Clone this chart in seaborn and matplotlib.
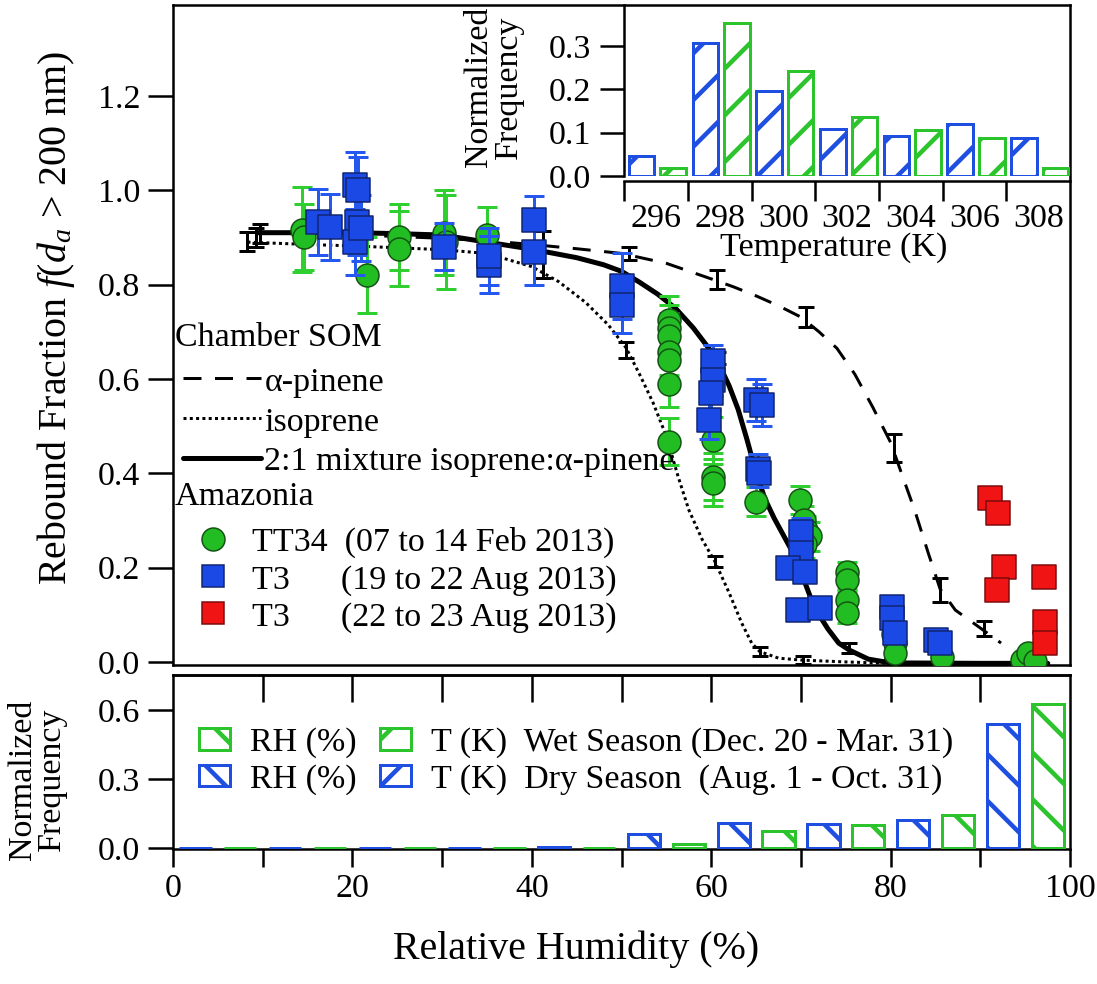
import numpy as np
import pandas as pd
import matplotlib
matplotlib.use("Agg")
import matplotlib.pyplot as plt
from matplotlib.lines import Line2D
from matplotlib.patches import Patch
import seaborn as sns

# ---------------- data ----------------
# Amazonia TT34 (07 to 14 Feb 2013)
tt34_rh = [14.4, 14.6, 21.6, 25.2, 25.2, 30.2, 30.4, 35.0,
           55.3, 55.3, 55.3, 55.3, 55.3, 55.3, 55.3,
           60.2, 60.2, 60.2, 65.0, 69.9, 70.3, 70.6, 71.0, 70.4,
           75.1, 75.1, 75.1, 75.1, 80.3, 80.5, 80.5, 85.7, 94.6, 95.3, 96.1]
tt34_rf = [0.916, 0.900, 0.820, 0.900, 0.876, 0.910, 0.890, 0.905,
           0.725, 0.707, 0.690, 0.658, 0.640, 0.590, 0.467,
           0.470, 0.393, 0.380, 0.340, 0.343, 0.300, 0.280, 0.266, 0.250,
           0.191, 0.174, 0.131, 0.103, 0.060, 0.040, 0.019, 0.011, 0.004, 0.020, 0.001]
tt34_err = [0.09, 0.07, 0.08, 0.07, 0.08, 0.09, 0.10, 0.06,
            0.05, 0.05, 0.05, 0.05, 0.05, 0.05, 0.05,
            0.05, 0.05, 0.05, 0.03, 0.03, 0.03, 0.03, 0.03, 0.03,
            0.02, 0.02, 0.02, 0.02, 0.01, 0.01, 0.01, 0.01, 0.01, 0.01, 0.01]

# Amazonia T3 (19 to 22 Aug 2013)
t3a_rh = [16.2, 17.5, 20.3, 20.6, 20.5, 20.3, 21.0, 30.2, 35.2, 35.2, 40.2, 40.2,
          50.1, 50.1, 60.2, 60.2, 60.0, 59.8, 65.0, 65.6, 65.2, 65.3,
          70.0, 70.0, 68.6, 70.4, 69.7, 72.1, 80.1, 80.1, 80.5, 85.1, 85.5]
t3a_rf = [0.933, 0.923, 1.011, 1.000, 0.933, 0.891, 0.920, 0.880, 0.842, 0.860, 0.937, 0.870,
          0.796, 0.757, 0.637, 0.598, 0.570, 0.513, 0.555, 0.545, 0.410, 0.400,
          0.276, 0.231, 0.200, 0.190, 0.110, 0.114, 0.117, 0.093, 0.061, 0.047, 0.040]
t3a_err = [0.07, 0.07, 0.07, 0.07, 0.07, 0.07, 0.07, 0.05, 0.06, 0.06, 0.05, 0.07,
           0.07, 0.06, 0.035, 0.035, 0.035, 0.04, 0.045, 0.045, 0.03, 0.03,
           0.03, 0.03, 0.02, 0.02, 0.02, 0.02, 0.02, 0.02, 0.02, 0.01, 0.01]

# Amazonia T3 (22 to 23 Aug 2013)
t3b_rh = [91.1, 92.0, 92.6, 91.8, 97.1, 97.2, 97.2]
t3b_rf = [0.347, 0.315, 0.202, 0.152, 0.181, 0.085, 0.040]
t3b_err = [0.005, 0.005, 0.005, 0.005, 0.005, 0.005, 0.005]

# Chamber SOM curves
apin_rh = [9.5, 15, 20, 25, 30, 35, 40, 45, 50, 55, 60, 62.5, 65, 67.5, 70, 72, 74, 76, 78,
           80, 81.2, 82.7, 84.2, 85.5, 87.2, 89.4, 92.3]
apin_rf = [0.910, 0.908, 0.905, 0.902, 0.898, 0.893, 0.885, 0.876, 0.866, 0.845, 0.812, 0.795,
           0.776, 0.755, 0.731, 0.700, 0.665, 0.610, 0.540, 0.465, 0.400, 0.320, 0.230, 0.155,
           0.110, 0.080, 0.040]
iso_rh = [8.3, 15, 20, 25, 30, 35, 40, 43, 46, 48.5, 50.5, 52, 53.5, 55, 56.3, 57.5, 59, 60.4,
          62, 63.4, 64.5, 65.4, 67.5, 70, 75, 80, 90, 97]
iso_rf = [0.890, 0.885, 0.882, 0.878, 0.874, 0.866, 0.838, 0.806, 0.762, 0.715, 0.666, 0.610,
          0.550, 0.478, 0.393, 0.322, 0.259, 0.213, 0.146, 0.082, 0.040, 0.022, 0.008, 0.004,
          0.000, -0.003, -0.003, -0.003]
mix_rh = [9.5, 15, 20, 25, 30, 35, 40, 45, 48, 50, 52, 54, 56, 58, 60, 61, 62, 63, 64, 65, 66,
          67, 68, 69, 70, 71, 72, 73, 74.2, 75.4, 77.5, 80, 90, 97.5]
mix_rf = [0.910, 0.910, 0.910, 0.908, 0.905, 0.890, 0.875, 0.857, 0.842, 0.828, 0.805, 0.780,
          0.750, 0.708, 0.658, 0.625, 0.585, 0.535, 0.470, 0.400, 0.345, 0.305, 0.270, 0.235,
          0.190, 0.140, 0.100, 0.070, 0.040, 0.025, 0.006, -0.002, -0.003, -0.003]

# Chamber SOM measured points with error bars
apin_pt_rh = [9.7, 50.8, 60.6, 70.6, 80.4, 85.5, 90.4]
apin_pt_rf = [0.909, 0.866, 0.811, 0.731, 0.453, 0.153, 0.071]
apin_pt_err = [0.020, 0.014, 0.020, 0.021, 0.030, 0.025, 0.015]
iso_pt_rh = [8.3, 50.5, 60.4, 65.4, 70.2, 80.0]
iso_pt_rf = [0.891, 0.661, 0.213, 0.022, 0.004, -0.005]
iso_pt_err = [0.020, 0.017, 0.012, 0.010, 0.008, 0.010]
mix_pt_rh = [9.3, 41.2, 60.7, 75.4, 80.1]
mix_pt_rf = [0.900, 0.863, 0.645, 0.030, -0.002]
mix_pt_err = [0.020, 0.050, 0.013, 0.010, 0.010]

# RH frequency distributions (bins of 10 %)
rh_bins = [0, 10, 20, 30, 40, 50, 60, 70, 80, 90]
rh_dry = [0, 0, 0, 0, 0.006, 0.062, 0.110, 0.105, 0.123, 0.540]
rh_wet = [0, 0, 0, 0, 0, 0.018, 0.072, 0.102, 0.142, 0.625]

# Temperature frequency distributions
t_bins = [296, 298, 300, 302, 304, 306, 308]
t_dry = [0.046, 0.306, 0.196, 0.108, 0.091, 0.120, 0.088]
t_wet = [0.019, 0.354, 0.243, 0.136, 0.106, 0.088, 0.019]

# ---------------- style ----------------
DPI = 280
W, H = 1097, 984


def pt(px):
    return px * 72.0 / DPI


sns.set_style("ticks")
plt.rcParams['font.family'] = ['Liberation Serif', 'DejaVu Serif']
plt.rcParams['mathtext.fontset'] = 'custom'
plt.rcParams['mathtext.rm'] = 'Liberation Serif'
plt.rcParams['mathtext.it'] = 'Liberation Serif:italic'
plt.rcParams['hatch.linewidth'] = pt(4.5)
plt.rcParams['axes.linewidth'] = pt(2.5)
plt.rcParams['text.color'] = 'black'
plt.rcParams['axes.labelcolor'] = 'black'
plt.rcParams['xtick.color'] = 'black'
plt.rcParams['ytick.color'] = 'black'
plt.rcParams['axes.edgecolor'] = 'black'

FS = pt(34)
FS_LAB = pt(40)
HATCH_RH = '\\\\'
HATCH_T = '//'

GREEN = '#22bd22'
GREEN_E = '#2fcf2f'
BLUE = '#1a49e6'
BLUE_E = '#2458ee'
RED = '#f01414'
BAR_BLUE = '#1f4fe0'
BAR_GREEN = '#2cc42c'

fig = plt.figure(figsize=(W / DPI + 0.0005, H / DPI + 0.0005), dpi=DPI)
ax = fig.add_axes([173 / W, 1 - 665 / H, 897 / W, 660 / H])
axb = fig.add_axes([173 / W, 1 - 849 / H, 897 / W, 174 / H])
axi = fig.add_axes([624 / W, 1 - 176 / H, 446 / W, 171 / H])

# ---------------- main panel ----------------
curve_df = pd.concat([
    pd.DataFrame({'rh': apin_rh, 'rf': apin_rf, 'som': 'apin'}),
    pd.DataFrame({'rh': iso_rh, 'rf': iso_rf, 'som': 'iso'}),
    pd.DataFrame({'rh': mix_rh, 'rf': mix_rf, 'som': 'mix'}),
])
sns.lineplot(data=curve_df[curve_df.som == 'apin'], x='rh', y='rf', ax=ax, color='black',
             lw=pt(3), estimator=None, sort=False, zorder=2).lines[-1].set_dashes([6, 4.5])
sns.lineplot(data=curve_df[curve_df.som == 'iso'], x='rh', y='rf', ax=ax, color='black',
             lw=pt(3), estimator=None, sort=False, zorder=2).lines[-1].set_dashes([1, 1.1])
sns.lineplot(data=curve_df[curve_df.som == 'mix'], x='rh', y='rf', ax=ax, color='black',
             lw=pt(5), estimator=None, sort=False, zorder=2)

for xs, ys, es in [(apin_pt_rh, apin_pt_rf, apin_pt_err),
                   (iso_pt_rh, iso_pt_rf, iso_pt_err),
                   (mix_pt_rh, mix_pt_rf, mix_pt_err)]:
    ax.errorbar(xs, ys, yerr=es, fmt='none', ecolor='black', elinewidth=pt(3),
                capsize=pt(8), capthick=pt(3), zorder=2)

ax.errorbar(tt34_rh, tt34_rf, yerr=tt34_err, fmt='none', ecolor=GREEN_E, elinewidth=pt(3),
            capsize=pt(10), capthick=pt(3), zorder=3)
sns.scatterplot(x=tt34_rh, y=tt34_rf, ax=ax, marker='o', s=pt(23) ** 2, color=GREEN,
                edgecolor='#145214', linewidth=pt(1.5), zorder=4)
ax.errorbar(t3a_rh, t3a_rf, yerr=t3a_err, fmt='none', ecolor=BLUE_E, elinewidth=pt(3),
            capsize=pt(10), capthick=pt(3), zorder=5)
sns.scatterplot(x=t3a_rh, y=t3a_rf, ax=ax, marker='s', s=pt(24) ** 2, color=BLUE,
                edgecolor='#10246e', linewidth=pt(1.5), zorder=6)
ax.errorbar(t3b_rh, t3b_rf, yerr=t3b_err, fmt='none', ecolor=RED, elinewidth=pt(3),
            capsize=pt(10), capthick=pt(3), zorder=5)
sns.scatterplot(x=t3b_rh, y=t3b_rf, ax=ax, marker='s', s=pt(24) ** 2, color=RED,
                edgecolor='#7a0a0a', linewidth=pt(1.5), zorder=6)

ax.set_xlim(0, 100)
ax.set_ylim(-0.0064, 1.393)
ax.set_yticks([0, 0.2, 0.4, 0.6, 0.8, 1.0, 1.2])
ax.set_yticklabels(['0.0', '0.2', '0.4', '0.6', '0.8', '1.0', '1.2'])
ax.tick_params(axis='y', direction='out', length=pt(25), width=pt(2.5), labelsize=FS, pad=pt(8))
ax.tick_params(axis='x', bottom=False, labelbottom=False)
for s in ax.spines.values():
    s.set_visible(True)
    s.set_linewidth(pt(2.5))
ax.set_xlabel('')
ax.set_ylabel(r'Rebound Fraction $f$($d_a$ > 200 nm)', fontsize=FS_LAB)
ax.yaxis.set_label_coords(-0.107, 0.526)

ax.text(0.002, 0.4955, 'Chamber SOM', transform=ax.transAxes, fontsize=FS,
        ha='left', va='center')
ax.text(0.002, 0.2545, 'Amazonia', transform=ax.transAxes, fontsize=FS,
        ha='left', va='center')

line_handles = [
    Line2D([], [], color='black', lw=pt(3), dashes=[6, 4.5]),
    Line2D([], [], color='black', lw=pt(3), dashes=[1, 1.1]),
    Line2D([], [], color='black', lw=pt(5)),
]
leg1 = ax.legend(line_handles, ['\u03b1-pinene', 'isoprene', '2:1 mixture isoprene:\u03b1-pinene'],
                 loc='upper left', bbox_to_anchor=(0.011, 0.452), frameon=False,
                 fontsize=FS, handlelength=2.3, handletextpad=0.1, labelspacing=0.27,
                 borderpad=0, borderaxespad=0)
ax.add_artist(leg1)
mk_handles = [
    Line2D([], [], ls='none', marker='o', ms=pt(23), mfc=GREEN, mec='#145214', mew=pt(1.5)),
    Line2D([], [], ls='none', marker='s', ms=pt(22), mfc=BLUE, mec='#10246e', mew=pt(1.5)),
    Line2D([], [], ls='none', marker='s', ms=pt(22), mfc=RED, mec='#7a0a0a', mew=pt(1.5)),
]
leg2 = ax.legend(mk_handles, ['TT34  (07 to 14 Feb 2013)',
                              'T3      (19 to 22 Aug 2013)',
                              'T3      (22 to 23 Aug 2013)'],
                 loc='upper left', bbox_to_anchor=(0.0256, 0.209), frameon=False,
                 fontsize=FS, handlelength=1.0, handletextpad=0.65, labelspacing=0.18,
                 borderpad=0, borderaxespad=0)

# ---------------- bottom RH histogram ----------------
rh_c = np.array(rh_bins, dtype=float)
axb.bar(rh_c + 2.5, rh_dry, width=3.6, facecolor='white', edgecolor=BAR_BLUE,
        hatch=HATCH_RH, lw=pt(3), zorder=3)
axb.bar(rh_c + 7.5, rh_wet, width=3.6, facecolor='white', edgecolor=BAR_GREEN,
        hatch=HATCH_RH, lw=pt(3), zorder=3)
axb.set_xlim(0, 100)
axb.set_ylim(-0.0043, 0.752)
axb.set_yticks([0, 0.3, 0.6])
axb.set_yticklabels(['0.0', '0.3', '0.6'])
axb.set_xticks([0, 20, 40, 60, 80, 100])
axb.set_xticklabels(['0', '20', '40', '60', '80', '100'])
axb.set_xticks([10, 30, 50, 70, 90], minor=True)
axb.tick_params(axis='y', direction='out', length=pt(25), width=pt(2.5), labelsize=FS, pad=pt(8))
axb.tick_params(axis='x', which='both', direction='out', length=pt(18), width=pt(2.5),
                labelsize=FS, pad=pt(6))
for s in axb.spines.values():
    s.set_visible(True)
    s.set_linewidth(pt(2.5))
sec = axb.secondary_xaxis('top')
sec.set_xticks([10, 20, 30, 40, 50, 60, 70, 80, 90])
sec.tick_params(axis='x', direction='in', length=pt(27), width=pt(2.5), labeltop=False)
sec.spines['top'].set_linewidth(pt(2.5))
axb.set_xlabel('Relative Humidity (%)', fontsize=FS_LAB)
axb.xaxis.set_label_coords(0.449, -0.47)
axb.set_ylabel('Normalized\nFrequency', fontsize=FS, linespacing=0.95)
axb.yaxis.set_label_coords(-0.118, 0.4)

rh_handles = [
    Patch(facecolor='white', edgecolor=BAR_GREEN, hatch=HATCH_RH, lw=pt(3)),
    Patch(facecolor='white', edgecolor=BAR_BLUE, hatch=HATCH_RH, lw=pt(3)),
    Patch(facecolor='white', edgecolor=BAR_GREEN, hatch=HATCH_T, lw=pt(3)),
    Patch(facecolor='white', edgecolor=BAR_BLUE, hatch=HATCH_T, lw=pt(3)),
]
axb.legend(rh_handles, ['RH (%)', 'RH (%)',
                        'T (K)  Wet Season (Dec. 20 - Mar. 31)',
                        'T (K)  Dry Season  (Aug. 1 - Oct. 31)'],
           ncol=2, loc='upper left', bbox_to_anchor=(0.029, 0.70), frameon=False,
           fontsize=FS, handlelength=0.9, handleheight=0.6, handletextpad=0.6,
           columnspacing=0.7, labelspacing=0.17, borderpad=0, borderaxespad=0)

# ---------------- inset temperature histogram ----------------
t_c = np.array(t_bins, dtype=float)
axi.bar(t_c - 0.45, t_dry, width=0.8, facecolor='white', edgecolor=BAR_BLUE,
        hatch=HATCH_T, lw=pt(3), zorder=3)
axi.bar(t_c + 0.54, t_wet, width=0.8, facecolor='white', edgecolor=BAR_GREEN,
        hatch=HATCH_T, lw=pt(3), zorder=3)
axi.set_facecolor('none')
axi.set_xlim(295, 309)
axi.set_ylim(0, 0.395)
axi.set_yticks([0, 0.1, 0.2, 0.3])
axi.set_yticklabels(['0.0', '0.1', '0.2', '0.3'])
axi.set_xticks([295, 297, 299, 301, 303, 305, 307])
axi.set_xticklabels([])
axi.set_xticks(t_bins, minor=True)
axi.set_xticklabels([str(t) for t in t_bins], minor=True)
axi.tick_params(axis='x', which='major', direction='out', length=pt(20), width=pt(2.5))
axi.tick_params(axis='x', which='minor', length=0, labelsize=FS, pad=pt(22))
axi.tick_params(axis='y', direction='out', length=pt(24), width=pt(2.5), labelsize=FS, pad=pt(9))
axi.spines['top'].set_visible(False)
axi.spines['right'].set_visible(False)
axi.spines['left'].set_linewidth(pt(2.5))
axi.spines['bottom'].set_linewidth(pt(2.5))
axi.spines['bottom'].set_position(('outward', pt(5)))
axi.set_xlabel('Temperature (K)', fontsize=FS)
axi.xaxis.set_label_coords(0.47, -0.33)
axi.set_ylabel('Normalized\nFrequency', fontsize=FS, linespacing=0.95)
axi.yaxis.set_label_coords(-0.225, 0.52)

fig.savefig('out.png', dpi=DPI, facecolor='white')
